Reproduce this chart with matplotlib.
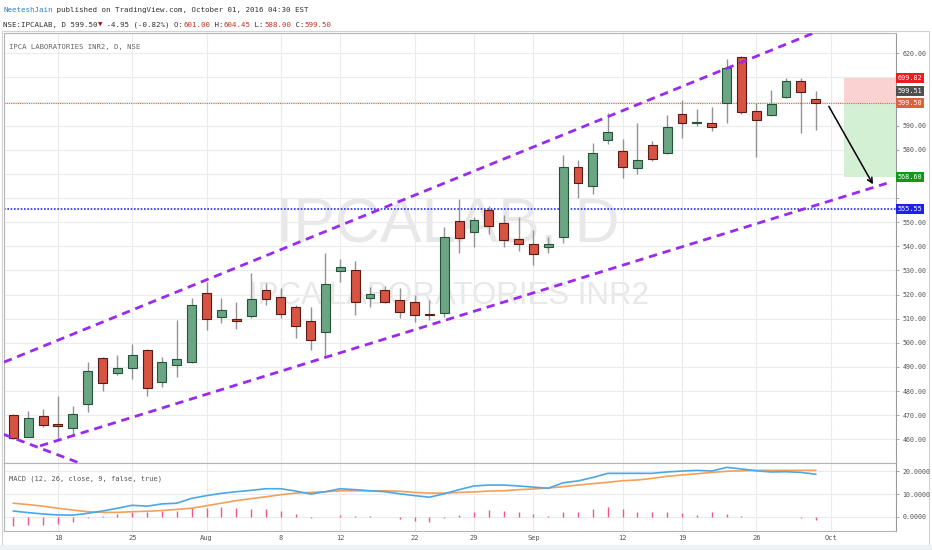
import matplotlib
matplotlib.use('Agg')
import matplotlib.pyplot as plt
import matplotlib.transforms as mtransforms
from matplotlib.patches import Rectangle
from matplotlib.text import Annotation
import numpy as np

# ---------------- data ----------------
opens = [470.0, 461.1, 469.7, 466.2, 464.8, 474.8, 493.6, 487.6, 489.7, 497.0,
         483.8, 490.8, 492.2, 520.8, 510.8, 510.0, 511.1, 521.9, 518.9, 514.7,
         508.9, 504.6, 529.7, 530.2, 518.5, 521.9, 517.8, 516.9, 511.6, 512.3,
         550.5, 545.8, 554.9, 549.8, 542.9, 541.0, 539.7, 543.7, 573.0, 565.1,
         584.0, 579.6, 572.3, 581.9, 578.6, 594.7, 591.0, 591.2, 599.3, 618.6,
         596.1, 594.6, 601.8, 608.6, 601.0]
highs = [470.3, 471.9, 472.7, 478.0, 473.8, 492.0, 494.0, 494.8, 499.5, 497.6,
         494.0, 509.5, 518.5, 525.2, 518.7, 516.8, 528.8, 524.9, 522.7, 515.7,
         515.0, 537.1, 534.6, 533.8, 523.0, 523.6, 522.6, 519.8, 517.8, 548.0,
         559.6, 552.3, 556.7, 553.0, 552.0, 546.8, 544.0, 577.9, 575.8, 583.0,
         595.1, 584.4, 591.0, 583.7, 594.4, 600.6, 596.9, 597.9, 617.6, 618.8,
         599.5, 604.8, 609.6, 609.6, 604.45]
lows = [460.0, 460.8, 465.3, 459.7, 461.6, 471.2, 480.2, 486.7, 485.0, 478.0,
        481.8, 486.0, 491.5, 505.3, 508.1, 505.6, 510.2, 515.7, 510.2, 502.1,
        497.0, 494.3, 525.3, 511.5, 515.0, 516.5, 510.2, 508.8, 509.5, 510.8,
        537.4, 539.9, 545.1, 539.9, 538.2, 532.3, 537.4, 541.3, 560.2, 561.7,
        582.4, 568.2, 570.0, 575.4, 578.3, 585.0, 589.9, 587.9, 591.0, 595.0,
        577.1, 594.0, 601.5, 587.1, 588.0]
closes = [460.4, 468.7, 466.1, 465.5, 470.4, 488.3, 483.2, 489.6, 494.8, 481.4,
          491.9, 493.2, 515.7, 510.0, 513.6, 509.2, 518.3, 518.2, 512.1, 507.1,
          501.3, 524.2, 531.3, 517.1, 520.1, 517.1, 512.9, 511.4, 511.4, 544.0,
          543.3, 551.0, 548.5, 542.6, 541.0, 536.8, 541.1, 573.0, 566.1, 578.6,
          587.4, 572.8, 575.8, 576.1, 589.6, 591.2, 591.4, 589.6, 614.0, 595.8,
          592.4, 599.0, 608.6, 604.0, 599.5]

macd_line = [2.6, 1.9, 1.3, 0.9, 0.8, 1.6, 2.6, 3.8, 5.1, 4.7,
             5.7, 6.0, 8.1, 9.3, 10.3, 11.0, 11.6, 12.3, 12.3, 11.3,
             10.0, 11.0, 12.3, 11.9, 11.4, 11.0, 10.1, 9.3, 8.6, 10.1,
             11.9, 13.5, 13.9, 13.9, 13.5, 13.0, 12.5, 14.9, 15.7, 17.2,
             19.0, 19.0, 19.0, 19.0, 19.6, 20.0, 20.3, 20.0, 21.6, 20.9,
             20.1, 19.6, 19.7, 19.4, 18.6]
signal_line = [6.0, 5.4, 4.7, 3.8, 3.0, 2.3, 2.0, 2.0, 2.3, 2.5,
               2.8, 3.3, 3.8, 4.9, 6.0, 7.1, 8.0, 8.8, 9.7, 10.4,
               10.7, 11.0, 11.4, 11.4, 11.4, 11.4, 11.2, 10.7, 10.4, 10.4,
               10.7, 10.9, 11.3, 11.4, 11.9, 12.2, 12.6, 13.2, 13.9, 14.5,
               15.1, 15.8, 16.1, 16.8, 17.7, 18.3, 18.8, 19.4, 19.9, 20.1,
               20.3, 20.3, 20.3, 20.3, 20.3]
histogram = [-3.8, -3.5, -3.5, -3.2, -2.0, -0.4, 0.4, 1.3, 2.3, 2.3,
             2.6, 2.8, 3.8, 4.1, 4.3, 3.8, 3.6, 3.6, 2.6, 1.3,
             -0.3, 0.1, 0.9, 0.3, 0.3, -0.1, -1.0, -1.7, -2.0, -0.6,
             0.9, 2.3, 3.0, 2.6, 2.2, 1.3, 0.4, 2.0, 2.2, 3.3,
             4.2, 3.3, 2.3, 2.0, 2.0, 1.6, 0.9, 2.0, 1.5, 0.3,
             0.1, -0.1, 0.0, -0.6, -1.2]

tick_pos = [3, 8, 13, 18, 22, 27, 31, 35, 41, 45, 50, 55]
tick_labels = ['18', '25', 'Aug', '8', '12', '22', '29', 'Sep', '12', '19', '26', 'Oct']
price_ticks = [460, 470, 480, 490, 500, 510, 520, 530, 540, 550, 560, 570, 580, 590, 600, 610, 620]
macd_ticks = [0, 10, 20]

# drawings (bar index, price)
upper_x, upper_y = [-0.63, 53.9], [492.0, 628.5]
lower_x, lower_y = [1.8, 58.77], [457.3, 566.1]
desc_x, desc_y = [-0.67, 4.4], [462.1, 450.3]
arrow_from, arrow_to = (54.88, 598.0), (57.85, 565.7)
entry, stop, target = 599.50, 609.82, 568.60
stop_label_2 = 599.51
hline_level = 555.55
pos_start = 55.9

# ---------------- figure ----------------
W, H = 932, 550
fig = plt.figure(figsize=(W / 100, H / 100), dpi=100)
fig.patch.set_facecolor('white')

def fx(px):
    return px / W

def fy(py):
    return 1 - py / H

L, R, T, B, M = 4, 896, 33, 463, 531
ax = fig.add_axes([fx(L), fy(B), fx(R - L), (B - T) / H])
ax2 = fig.add_axes([fx(L), fy(M), fx(R - L), (M - B) / H], sharex=ax)

# background frame / bottom band
fig.add_artist(Rectangle((fx(2), fy(545)), fx(927), (545 - 31) / H, transform=fig.transFigure,
                         fc='none', ec='#cfd3d6', lw=0.8, zorder=0))
fig.add_artist(Rectangle((0, 0), 1, 5 / H, transform=fig.transFigure,
                         fc='#eef1f3', ec='none', zorder=0))

MONO = ['DejaVu Sans Mono', 'DejaVu Sans']
GRID = '#ebebeb'
AXC = '#555555'

xmin, xmax = -0.63, 59.4
ax.set_xlim(xmin, xmax)
ax.set_ylim(450.2, 628.4)
ax2.set_ylim(-6.1, 23.5)

for a in (ax, ax2):
    a.set_facecolor('white')
    for s in a.spines.values():
        s.set_color('#b5b5b5')
        s.set_linewidth(0.8)
    a.spines['right'].set_color('#9a9a9a')
    a.yaxis.tick_right()
    a.set_xticks(tick_pos)
    a.grid(True, color=GRID, lw=0.8, zorder=0)
    a.set_axisbelow(True)
ax.spines['bottom'].set_color('#8a8a8a')

# price axis labels: those hidden behind the marker boxes are left blank
box_values = [stop, 604.35, entry, target, hline_level]
def tick_text(v):
    if any(abs(v - b) < 4.5 for b in box_values):
        return ''
    return f'{v:.2f}'

ax.set_yticks(price_ticks)
ax.set_yticklabels([tick_text(v) for v in price_ticks], family=MONO, fontsize=4.8, color=AXC)
ax.tick_params(axis='y', length=2.5, width=0.6, color='#9a9a9a', pad=2)
ax.tick_params(axis='x', length=0, labelbottom=False)

ax2.set_yticks(macd_ticks)
ax2.set_yticklabels([f'{v:.4f}' for v in macd_ticks], family=MONO, fontsize=4.8, color=AXC)
ax2.tick_params(axis='y', length=2.5, width=0.6, color='#9a9a9a', pad=2)
ax2.set_xticklabels(tick_labels, family=MONO, fontsize=5.0, color=AXC)
ax2.tick_params(axis='x', length=0, pad=3)

# ---------------- watermark ----------------
ax.text(0.498, 0.553, 'IPCALAB, D', transform=ax.transAxes, ha='center', va='center',
        fontsize=45, color='#e8e8e8', family='Liberation Sans', zorder=0.5)
ax.text(0.499, 0.388, 'IPCA LABORATORIES INR2', transform=ax.transAxes, ha='center', va='center',
        fontsize=22.5, color='#e8e8e8', family='Liberation Sans', zorder=0.5)

# ---------------- position tool ----------------
ax.add_patch(Rectangle((pos_start, entry), xmax - pos_start, stop - entry,
                       fc='#fbd2d2', ec='none', zorder=1))
ax.add_patch(Rectangle((pos_start, target), xmax - pos_start, entry - target,
                       fc='#d4f0d4', ec='none', zorder=1))

# horizontal lines
ax.axhline(entry, color='#e0603c', lw=0.8, ls=(0, (1, 1)), zorder=2)
ax.axhline(hline_level, color='#2b2bff', lw=1.2, ls=(0, (1, 1)), zorder=2)

# ---------------- candles ----------------
idx = np.arange(len(opens))
o = np.array(opens); c = np.array(closes); h = np.array(highs); l = np.array(lows)
up = c >= o
ax.vlines(idx, l, h, color='#939395', lw=1.0, zorder=3)
body_bottom = np.minimum(o, c)
body_h = np.maximum(np.abs(c - o), 0.45)
ax.bar(idx[up], body_h[up], bottom=body_bottom[up], width=0.6,
       color='#6ba583', edgecolor='#225437', lw=0.8, zorder=4)
ax.bar(idx[~up], body_h[~up], bottom=body_bottom[~up], width=0.6,
       color='#d75442', edgecolor='#5b1a13', lw=0.8, zorder=4)

# ---------------- channel drawings ----------------
PURPLE = '#9b2af0'
dash = (0, (3.0, 2.1))
ax.plot(upper_x, upper_y, color=PURPLE, lw=2.0, ls=dash, zorder=5)
ax.plot(lower_x, lower_y, color=PURPLE, lw=2.0, ls=dash, zorder=5)
ax.plot(desc_x, desc_y, color=PURPLE, lw=2.0, ls=dash, zorder=5)
ax.annotate('', xy=arrow_to, xytext=arrow_from,
            arrowprops=dict(arrowstyle='->', color='black', lw=1.1, mutation_scale=9,
                            shrinkA=0, shrinkB=0), zorder=6)

# ---------------- price labels ----------------
blend = mtransforms.blended_transform_factory(ax.transAxes, ax.transData)
def price_box(val, shown, fc):
    ax.text(1.002, val, shown, transform=blend, ha='left', va='center', family=MONO,
            fontsize=4.9, color='white', clip_on=False, zorder=10,
            bbox=dict(boxstyle='square,pad=0.28', fc=fc, ec='none'))

price_box(stop, f'{stop:.2f}', '#ee1c1c')
price_box(604.35, f'{stop_label_2:.2f}', '#4f4f4f')
price_box(entry, f'{entry:.2f}', '#e0603c')
price_box(target, f'{target:.2f}', '#119911')
price_box(hline_level, f'{hline_level:.2f}', '#1f1ff5')

# ---------------- titles ----------------
ax.annotate('IPCA LABORATORIES INR2, D, NSE', xy=(0, 1), xycoords='axes fraction',
            xytext=(5, -14), textcoords='offset pixels', ha='left', va='center',
            family=MONO, fontsize=5.2, color='#666666')

# MACD
ax2.vlines(idx, 0, histogram, color='#f2558c', lw=1.0, zorder=2)
ax2.plot(idx, signal_line, color='#f2a05a', lw=1.2, zorder=3)
ax2.plot(idx, macd_line, color='#4aa8e6', lw=1.2, zorder=4)
ax2.annotate('MACD (12, 26, close, 9, false, true)', xy=(0, 1), xycoords='axes fraction',
             xytext=(5, -16), textcoords='offset pixels', ha='left', va='center',
             family=MONO, fontsize=5.0, color='#555555')

# header
def chain(parts, x, y):
    prev = fig.text(x, y, parts[0][0], color=parts[0][1], family=MONO, fontsize=5.4,
                    ha='left', va='center')
    for s, col in parts[1:]:
        prev = fig.add_artist(Annotation(
            s, xy=(1, 0.5), xycoords=prev, ha='left', va='center', color=col,
            family=MONO, fontsize=5.4))

DARK = '#333333'
RED = '#c8322a'
chain([('NeeteshJain', '#2f7fd0'),
       (' published on TradingView.com, October 01, 2016 04:30 EST', DARK)],
      fx(3), fy(10))
chain([('NSE:IPCALAB, D 599.50', DARK), ('▼', '#b01010'), (' -4.95 (-0.82%) O:', DARK),
       ('601.00', RED), (' H:', DARK), ('604.45', RED), (' L:', DARK), ('588.00', RED),
       (' C:', DARK), ('599.50', RED)],
      fx(3), fy(25))

fig.savefig('out.png', dpi=100, facecolor=fig.get_facecolor())
